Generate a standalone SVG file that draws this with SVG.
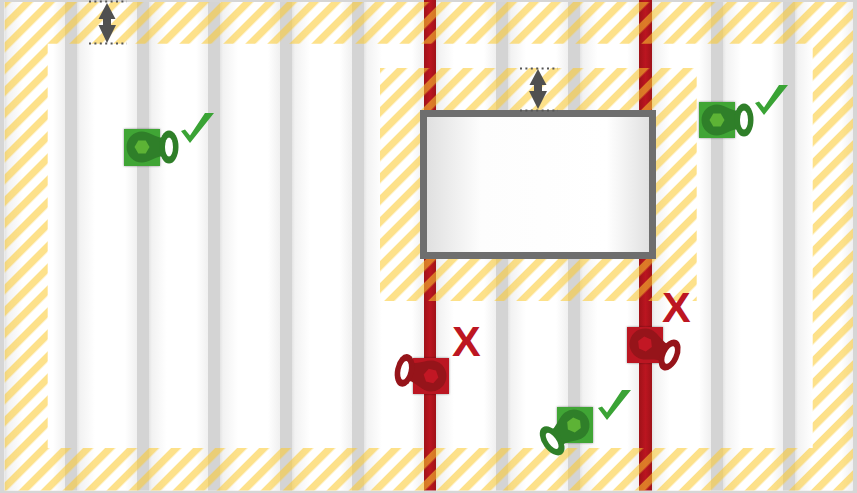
<svg xmlns="http://www.w3.org/2000/svg" width="857" height="493" viewBox="0 0 857 493">
<style>
.stud{fill:#d4d4d4}
.red{fill:url(#redg)}
.bay{fill:url(#bayg)}
.hatch{fill:url(#stripes)}
.dots{fill:none;stroke:#555;stroke-width:2;stroke-dasharray:2 3.4}
.arrow{fill:#505050}
.check{fill:#3aa335}
.x{font-family:"Liberation Sans",Arial,sans-serif;font-weight:700;font-size:43px;fill:#bd1622}
.gsq{fill:#3fa535;filter:url(#sh)}
.rsq{fill:#bb1420;filter:url(#sh)}
.gk{fill:#2f7f29}
.rk{fill:#96141a}
.hole{fill:#fff}
.ghex{fill:#5db335}
.rhex{fill:#c21724}
</style>
<defs>
<linearGradient id="bayg"><stop offset="0" stop-color="#e4e4e4"/><stop offset=".05" stop-color="#f2f2f2"/><stop offset=".3" stop-color="#fff"/><stop offset=".8" stop-color="#fff"/><stop offset="1" stop-color="#f0f0f0"/></linearGradient>
<linearGradient id="redg"><stop offset="0" stop-color="#a01219"/><stop offset=".5" stop-color="#bb1520"/><stop offset="1" stop-color="#a01219"/></linearGradient>
<linearGradient id="wing"><stop offset="0" stop-color="#dedede"/><stop offset=".25" stop-color="#fdfdfd"/><stop offset=".8" stop-color="#fff"/><stop offset="1" stop-color="#dedede"/></linearGradient>
<pattern id="stripes" width="15.56" height="15.56" patternUnits="userSpaceOnUse" patternTransform="translate(0 3) rotate(45)"><rect width="7.2" height="15.56" fill="#fcc92f" fill-opacity=".56"/></pattern>
<filter id="sh" x="-20%" y="-20%" width="140%" height="140%"><feDropShadow dx="0" dy="0" stdDeviation="1.2" flood-color="#000" flood-opacity=".45"/></filter>
<g id="key"><path d="M0-15.5C6-15.5 12-11 18-9.5L27-9.5L27 9.5L18 9.5C12 11 6 15.5 0 15.5A15.500 15.500 0 0 1 0-15.500Z"/><ellipse cx="27" cy="0" rx="9.500" ry="16.500"/></g>
<polygon id="hx" points="-7.500,0 -3.700,-6.500 3.700,-6.500 7.500,0 3.700,6.500 -3.700,6.500"/>
<polygon id="ck" points="0,18 4,16.500 9,22.500 24,0 33,0 9,30"/>
</defs>
<rect width="857" height="493" fill="#d6d6d6"/>
<rect x="4.500" y="2" width="848" height="488.500" fill="#fff"/>
<g id="wall">
<rect class="bay" x="5" y="2" width="60" height="488.500"/>
<rect class="bay" x="77" y="2" width="60" height="488.500"/>
<rect class="bay" x="149" y="2" width="59" height="488.500"/>
<rect class="bay" x="220" y="2" width="60" height="488.500"/>
<rect class="bay" x="292" y="2" width="60" height="488.500"/>
<rect class="bay" x="364" y="2" width="60" height="488.500"/>
<rect class="bay" x="436" y="2" width="60" height="488.500"/>
<rect class="bay" x="508" y="2" width="60" height="488.500"/>
<rect class="bay" x="580" y="2" width="59" height="488.500"/>
<rect class="bay" x="652" y="2" width="59" height="488.500"/>
<rect class="bay" x="723" y="2" width="60" height="488.500"/>
<rect class="bay" x="795" y="2" width="58" height="488.500"/>
<rect class="stud" x="65" y="2" width="12" height="488.500"/>
<rect class="stud" x="137" y="2" width="12" height="488.500"/>
<rect class="stud" x="208" y="2" width="12" height="488.500"/>
<rect class="stud" x="280" y="2" width="12" height="488.500"/>
<rect class="stud" x="352" y="2" width="12" height="488.500"/>
<rect class="red" x="424" y="0" width="12" height="490.500"/>
<rect class="stud" x="496" y="2" width="12" height="488.500"/>
<rect class="stud" x="568" y="2" width="12" height="488.500"/>
<rect class="red" x="639" y="0" width="13" height="490.500"/>
<rect class="stud" x="711" y="2" width="12" height="488.500"/>
<rect class="stud" x="783" y="2" width="12" height="488.500"/>
</g>
<g id="hatching">
<path class="hatch" fill-rule="evenodd" d="M4.700 2H853V490.500H4.700ZM47.700 43.700V448H812.700V43.700Z"/>
<rect class="hatch" x="380" y="68" width="316.700" height="233"/>
</g>
<g id="window">
<rect x="423.500" y="113.500" width="229" height="142" fill="url(#wing)" stroke="#6e6e6e" stroke-width="7"/>
</g>
<g id="clearance-top">
<path class="dots" d="M89 1.500H127M89 43.500H127"/>
<path class="arrow" d="M107 3L115.500 19H111V25H116L107 43L98.500 25H103V19H98.500Z"/>
</g>
<g id="clearance-window">
<path class="dots" d="M520 68.500H558M520 110.500H558"/>
<path class="arrow" d="M538 69L546.500 85H542V91H547L538 109L529 91H534V85H529.500Z"/>
</g>
<g id="fastener-ok-1">
<rect class="gsq" x="124" y="129" width="36" height="37"/>
<g transform="translate(142 147)"><use href="#key" class="gk"/><ellipse class="hole" cx="27" cy="0" rx="4" ry="9.500"/><use href="#hx" class="ghex"/></g>
<use href="#ck" class="check" x="181" y="113"/>
</g>
<g id="fastener-ok-2">
<rect class="gsq" x="699" y="102" width="36" height="36"/>
<g transform="translate(717 120)"><use href="#key" class="gk"/><ellipse class="hole" cx="27" cy="0" rx="4" ry="9.500"/><use href="#hx" class="ghex"/></g>
<use href="#ck" class="check" x="755" y="85"/>
</g>
<g id="fastener-ok-3">
<rect class="gsq" x="557" y="407" width="36" height="36"/>
<g transform="translate(574 425) rotate(144)"><use href="#key" class="gk"/><ellipse class="hole" cx="27" cy="0" rx="4" ry="9.500"/><use href="#hx" class="ghex"/></g>
<use href="#ck" class="check" x="598" y="390"/>
</g>
<g id="fastener-bad-1">
<rect class="rsq" x="413" y="358" width="36" height="36"/>
<g transform="translate(431 376) rotate(192)"><use href="#key" class="rk"/><ellipse class="hole" cx="27" cy="0" rx="4" ry="9.500"/><use href="#hx" class="rhex"/></g>
<text class="x" x="452" y="356">X</text>
</g>
<g id="fastener-bad-2">
<rect class="rsq" x="627" y="327" width="36" height="36"/>
<g transform="translate(645 344) rotate(24)"><use href="#key" class="rk"/><ellipse class="hole" cx="27" cy="0" rx="4" ry="9.500"/><use href="#hx" class="rhex"/></g>
<text class="x" x="662" y="322">X</text>
</g>
</svg>
